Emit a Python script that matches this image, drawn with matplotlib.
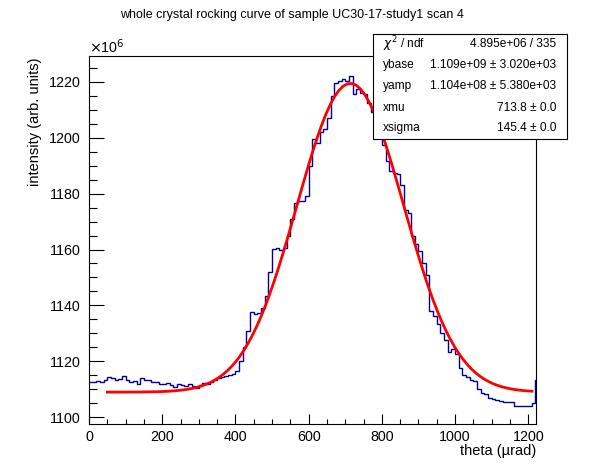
import numpy as np
import matplotlib
matplotlib.use("Agg")
import matplotlib.pyplot as plt
from matplotlib.ticker import MultipleLocator
from matplotlib.patches import Rectangle

plt.rcParams['font.family'] = ['Liberation Sans', 'DejaVu Sans']

# histogram (intensity in units of 1e6), 10 urad bins from 0, last two bins narrower
bin_edges = list(range(0, 1220, 10)) + [1218, 1221]
counts = [
    1112.7, 1112.5, 1113.0, 1112.8, 1113.5, 1114.5, 1114.0, 1113.2, 1113.8, 1114.6,
    1113.5, 1112.8, 1113.0, 1111.9, 1114.0, 1113.2, 1113.5, 1112.8, 1112.5, 1112.0,
    1111.9, 1112.3, 1111.5, 1110.8, 1112.0, 1111.5, 1111.2, 1112.0, 1111.3, 1110.6,
    1111.5, 1112.3, 1112.0, 1112.6, 1113.5, 1114.0, 1114.3, 1114.6, 1115.0, 1115.5,
    1116.5, 1120.0, 1125.0, 1131.0, 1137.5, 1137.0, 1137.4, 1139.0, 1143.5, 1152.0,
    1160.2, 1160.4, 1160.0, 1160.5, 1165.0, 1171.0, 1176.5, 1177.2, 1177.5, 1179.0,
    1190.0, 1199.5, 1198.0, 1202.0, 1203.0, 1207.0, 1215.0, 1219.5, 1220.2, 1221.0,
    1220.3, 1222.0, 1215.5, 1217.5, 1216.0, 1215.5, 1212.5, 1209.0, 1205.0, 1201.0,
    1197.5, 1191.5, 1188.0, 1187.2, 1187.0, 1183.0, 1174.0, 1173.0, 1165.0, 1162.0,
    1159.5, 1155.0, 1151.0, 1138.0, 1136.2, 1133.5, 1130.0, 1127.6, 1123.5, 1124.6,
    1122.5, 1117.5, 1115.1, 1114.5, 1113.3, 1113.0, 1110.0, 1108.6, 1108.3, 1106.8,
    1106.5, 1106.2, 1106.0, 1105.6, 1105.5, 1105.3, 1104.2, 1104.0, 1104.2, 1104.0,
    1104.2, 1105.0, 1113.3,
]

# fit parameters as printed in the stats box
ybase = 1.109e9
yamp = 1.104e8
xmu = 713.8
xsigma = 145.4
fit_range = (50, 1210)

stat_labels = [r'$\chi^{2}$ / ndf', 'ybase', 'yamp', 'xmu', 'xsigma']
stat_values = ['4.895e+06 / 335', '1.109e+09 ± 3.020e+03', '1.104e+08 ± 5.380e+03',
               '713.8 ± 0.0', '145.4 ± 0.0']

W, H = 596, 472


def fx(px):
    return px / W


def fy(py):
    return 1 - py / H


fig = plt.figure(figsize=(W / 100, H / 100), dpi=100)
ax = fig.add_axes([fx(89), fy(424.3), (536 - 89) / W, (424.3 - 55.7) / H])

ax.stairs(counts, bin_edges, baseline=None, color='#000099', lw=1.0)

xf = np.linspace(fit_range[0], fit_range[1], 100)
yf = (ybase + yamp * np.exp(-0.5 * ((xf - xmu) / xsigma) ** 2)) / 1e6
ax.plot(xf, yf, color='red', lw=2.0)

ax.set_xlim(0, 1221)
ax.set_ylim(1097.5, 1229.3)

# Ticks, ROOT style (inside, only left/bottom)
ax.xaxis.set_major_locator(MultipleLocator(200))
ax.xaxis.set_minor_locator(MultipleLocator(50))
ax.yaxis.set_major_locator(MultipleLocator(20))
ax.yaxis.set_minor_locator(MultipleLocator(5))
ax.tick_params(axis='x', which='major', direction='in', length=7.2, width=0.8, pad=4, labelsize=10.3)
ax.tick_params(axis='x', which='minor', direction='in', length=3.6, width=0.8)
ax.tick_params(axis='y', which='major', direction='in', length=10.8, width=0.8, pad=6, labelsize=10.3)
ax.tick_params(axis='y', which='minor', direction='in', length=5.4, width=0.8)
for s in ax.spines.values():
    s.set_linewidth(0.8)

ax.text(0, 1.0, r'$\times$10$^{6}$', transform=ax.transAxes, ha='left', va='bottom', fontsize=10.3)

# Titles
fig.text(fx(292), fy(15), 'whole crystal rocking curve of sample UC30-17-study1 scan 4',
         ha='center', va='center', fontsize=9.0)
fig.text(fx(35), fy(57), 'intensity (arb. units)', rotation=90, ha='center', va='top', fontsize=10.5)
fig.text(fx(536), fy(451), 'theta (µrad)', ha='right', va='center', fontsize=10.5)

# Stats box
bx0, bx1, by0, by1 = 373.3, 566.7, 34, 139
fig.patches.append(Rectangle((fx(bx0), fy(by1)), (bx1 - bx0) / W, (by1 - by0) / H,
                             transform=fig.transFigure, facecolor='white',
                             edgecolor='black', lw=0.8, zorder=5))
row_y = [44, 65, 86, 107.7, 128.3]
for lab, val, yy in zip(stat_labels, stat_values, row_y):
    fig.text(fx(382.7), fy(yy), lab, ha='left', va='center', fontsize=8.6, zorder=6)
    fig.text(fx(556), fy(yy), val, ha='right', va='center', fontsize=8.6, zorder=6)

fig.savefig('out.png', dpi=100)
